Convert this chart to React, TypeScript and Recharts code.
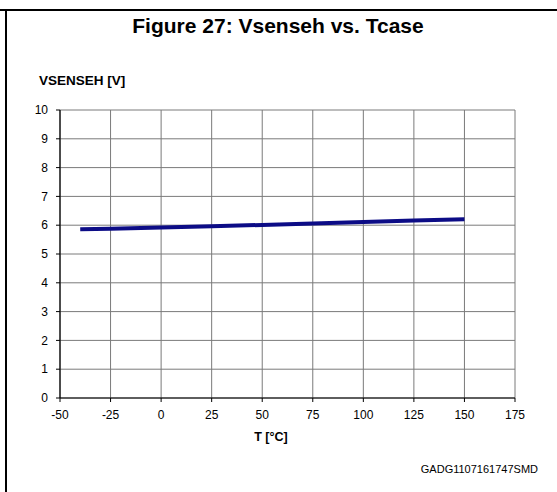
import React from "react";
import { LineChart, Line, XAxis, YAxis, CartesianGrid } from "recharts";

const temperatures = [-40, -25, 0, 25, 50, 75, 100, 125, 150];
const vsenseh = [5.86, 5.88, 5.92, 5.96, 6.01, 6.06, 6.11, 6.16, 6.21];
const xTicks = [-50, -25, 0, 25, 50, 75, 100, 125, 150, 175];
const yTicks = [0, 1, 2, 3, 4, 5, 6, 7, 8, 9, 10];

const data = temperatures.map((t, i) => ({ t, v: vsenseh[i] }));

const FONT = "'Liberation Sans', Arial, sans-serif";

export default function App() {
  return (
    <div
      style={{
        position: "absolute",
        left: 0,
        top: 0,
        width: 557,
        height: 492,
        background: "#fff",
        fontFamily: FONT,
      }}
    >
      <LineChart
        width={557}
        height={492}
        data={data}
        margin={{ top: 110, right: 42, bottom: 64, left: 20 }}
      >
        <CartesianGrid stroke="#7a7a7a" strokeWidth={1} />
        <XAxis
          dataKey="t"
          type="number"
          domain={[-50, 175]}
          ticks={xTicks}
          height={30}
          tickSize={4}
          tickMargin={8}
          interval={0}
          axisLine={{ stroke: "#000", strokeWidth: 1.2 }}
          tickLine={{ stroke: "#000" }}
          tick={{ fill: "#000", fontSize: 12, fontFamily: FONT }}
        />
        <YAxis
          type="number"
          domain={[0, 10]}
          ticks={yTicks}
          width={40}
          tickSize={4}
          tickMargin={8}
          interval={0}
          axisLine={{ stroke: "#000", strokeWidth: 1.2 }}
          tickLine={{ stroke: "#000" }}
          tick={{ fill: "#000", fontSize: 12, fontFamily: FONT }}
        />
        <Line
          dataKey="v"
          type="linear"
          stroke="#0c0c86"
          strokeWidth={4}
          dot={false}
          activeDot={false}
          isAnimationActive={false}
        />
      </LineChart>
      <svg
        width={557}
        height={492}
        style={{ position: "absolute", left: 0, top: 0, pointerEvents: "none" }}
      >
        <rect x={0} y={9} width={557} height={2} fill="#000" />
        <rect x={5} y={9} width={2} height={483} fill="#000" />
        <text
          x={278}
          y={33}
          textAnchor="middle"
          fontSize={21}
          fontWeight="bold"
          fontFamily={FONT}
          fill="#000"
        >
          Figure 27: Vsenseh vs. Tcase
        </text>
        <text
          x={39}
          y={85}
          fontSize={13.5}
          fontWeight="bold"
          fontFamily={FONT}
          fill="#000"
        >
          VSENSEH [V]
        </text>
        <text
          x={271}
          y={441}
          textAnchor="middle"
          fontSize={12.5}
          fontWeight="bold"
          fontFamily={FONT}
          fill="#000"
        >
          T [°C]
        </text>
        <text
          x={538}
          y={473}
          textAnchor="end"
          fontSize={11}
          fontFamily={FONT}
          fill="#000"
        >
          GADG1107161747SMD
        </text>
      </svg>
    </div>
  );
}
